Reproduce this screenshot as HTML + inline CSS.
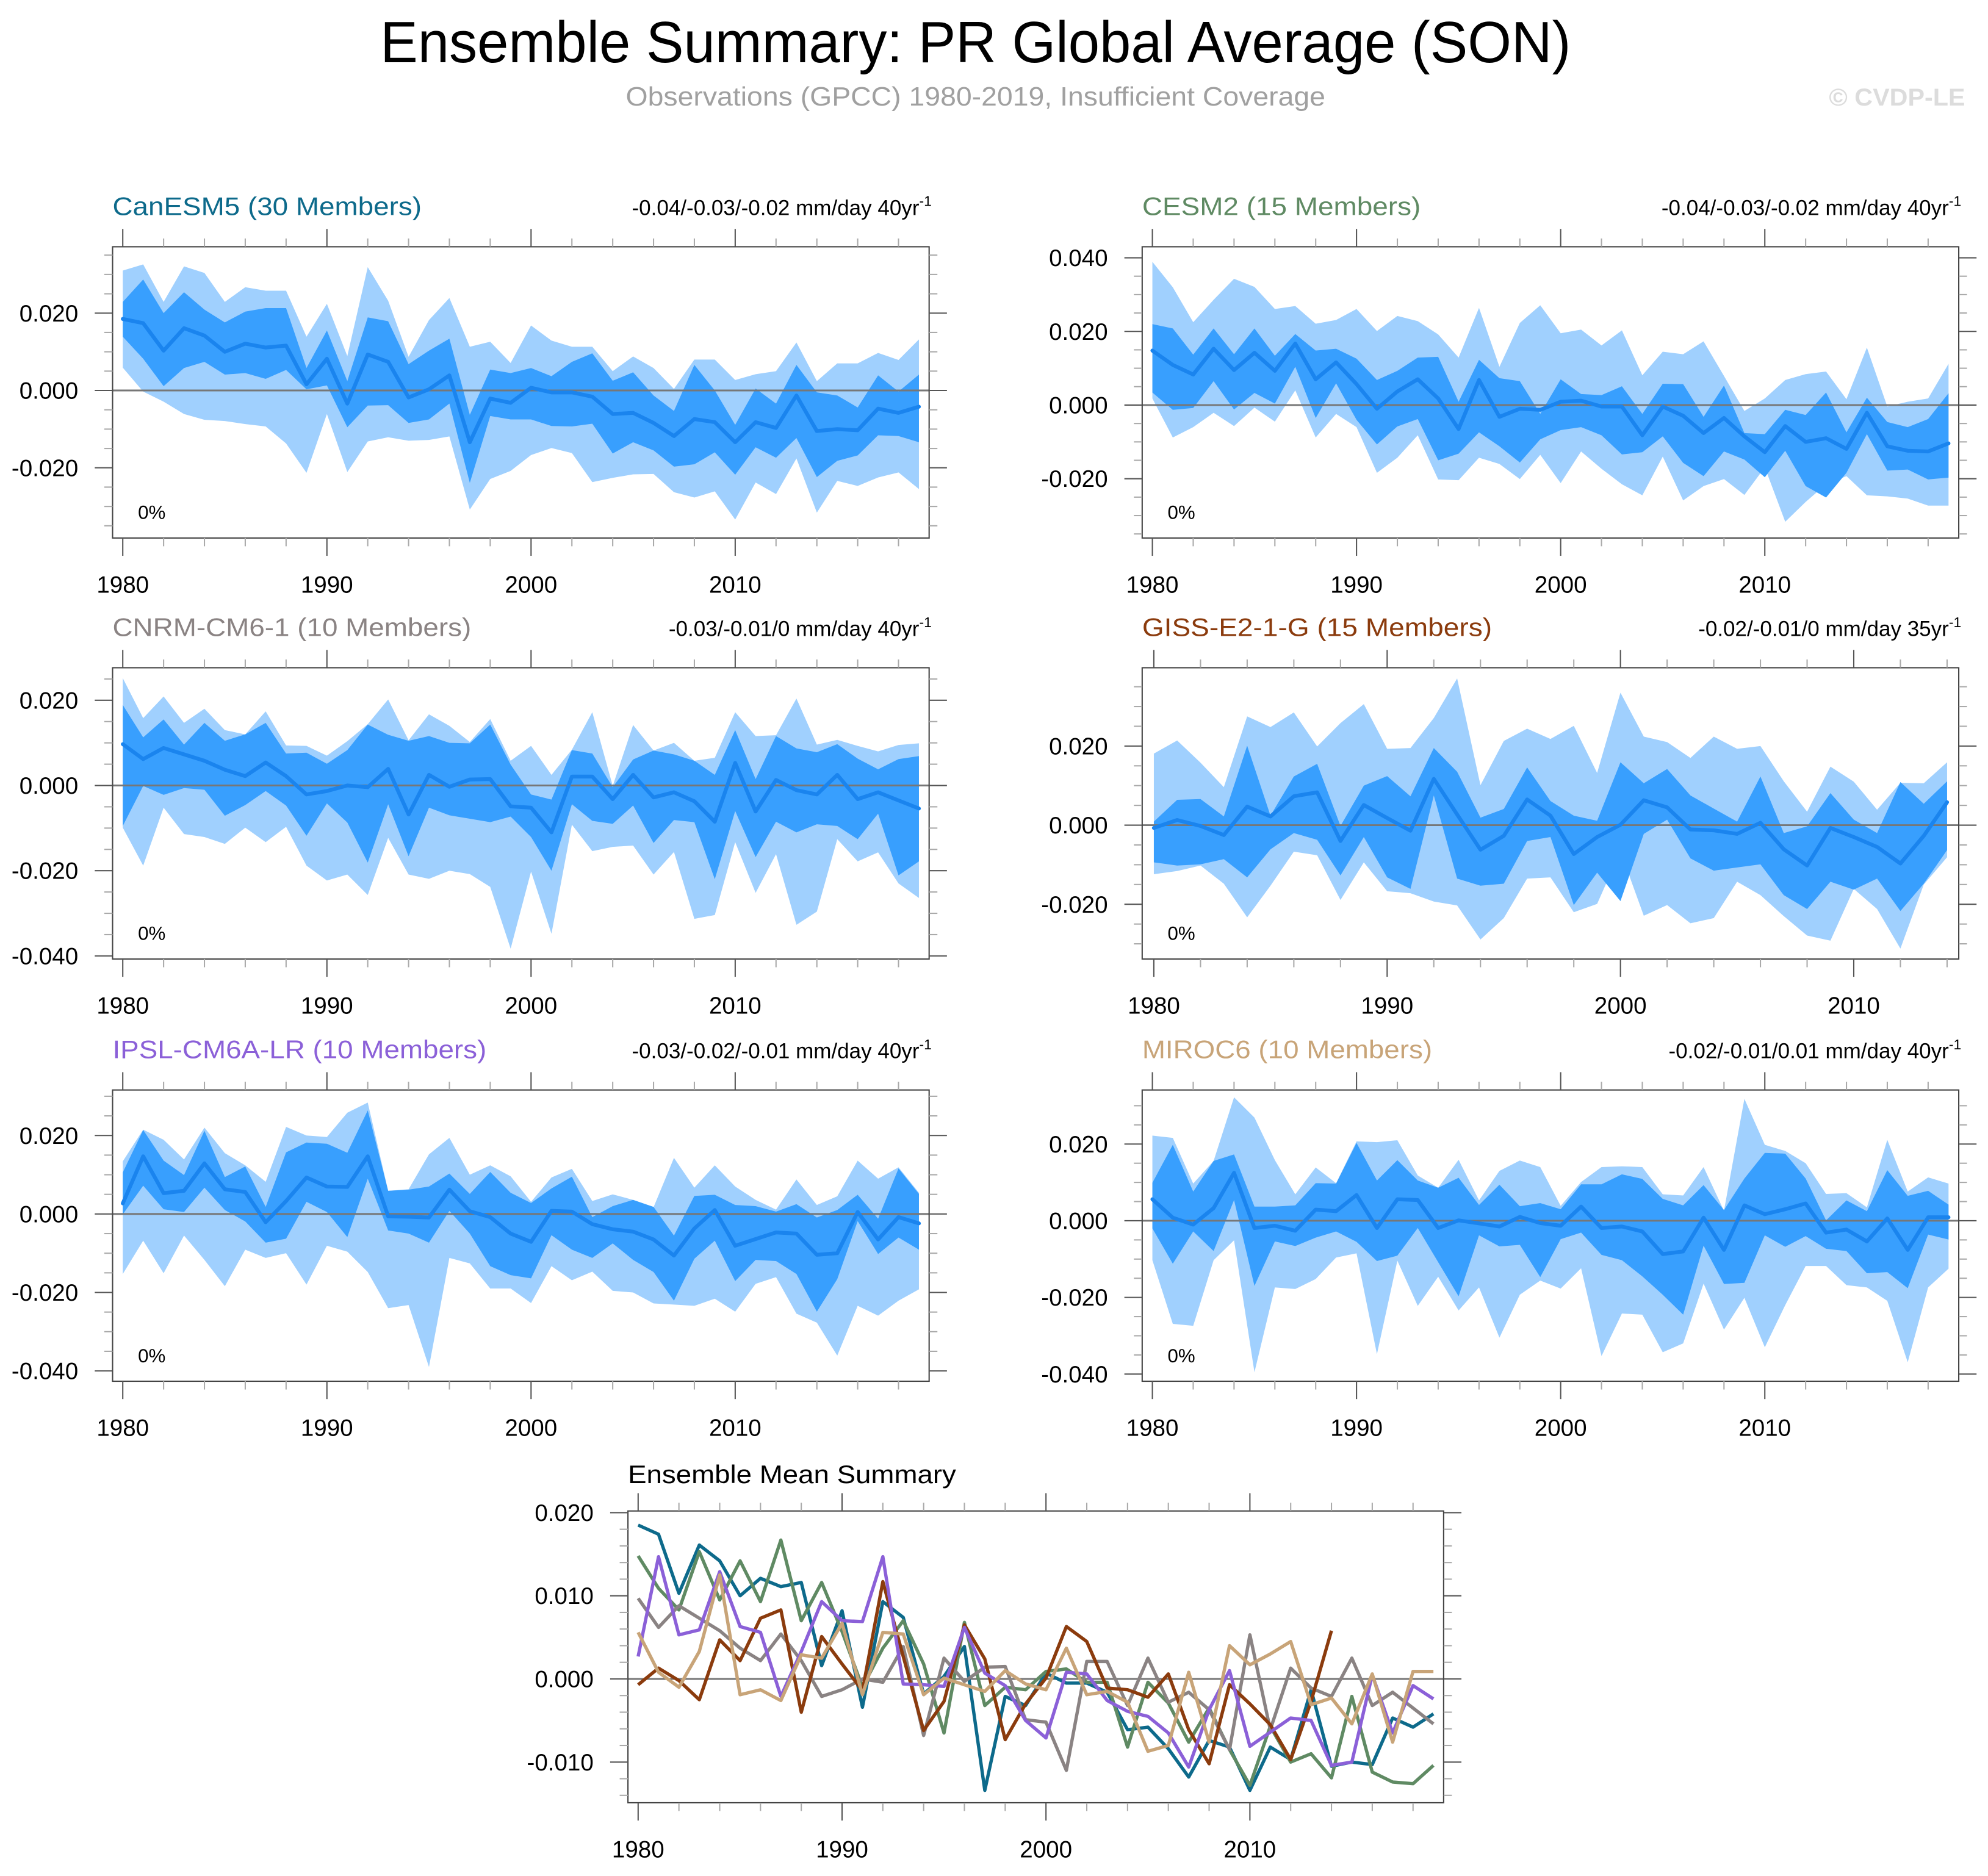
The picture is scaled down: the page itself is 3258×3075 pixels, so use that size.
<!DOCTYPE html>
<html><head><meta charset="utf-8"><style>
html,body{margin:0;padding:0;background:#fff}
svg{display:block}
text{font-family:"Liberation Sans",Arial,sans-serif}
</style></head><body>
<svg id="fig" xmlns="http://www.w3.org/2000/svg" width="3258" height="3075" viewBox="0 0 1563 1475" preserveAspectRatio="none">
<text x="767" y="49" font-size="46" text-anchor="middle" textLength="936" lengthAdjust="spacingAndGlyphs">Ensemble Summary: PR Global Average (SON)</text>
<text x="767" y="83" font-size="21" fill="#a0a0a0" text-anchor="middle" textLength="550" lengthAdjust="spacingAndGlyphs">Observations (GPCC) 1980-2019, Insufficient Coverage</text>
<text x="1545" y="83" font-size="19" font-weight="bold" fill="#dcdcdc" text-anchor="end" textLength="107" lengthAdjust="spacingAndGlyphs">© CVDP-LE</text>
</svg>
<script>
// values in units of 0.001 mm/day
const yearsAll = [1980,1981,1982,1983,1984,1985,1986,1987,1988,1989,1990,1991,1992,1993,1994,1995,1996,1997,1998,1999,2000,2001,2002,2003,2004,2005,2006,2007,2008,2009,2010,2011,2012,2013,2014,2015,2016,2017,2018,2019];
const yearsGiss = yearsAll.slice(0,35);

const canMax=[31.0,32.6,22.9,32.1,30.4,22.9,26.7,25.8,25.8,13.9,22.4,8.9,31.9,23.2,8.7,18.2,23.9,11.3,12.6,7.1,16.8,12.9,11.3,11.3,5.0,8.8,5.8,0.4,8.0,8.0,2.7,4.2,5.0,12.4,2.4,7.0,7.0,9.7,7.9,13.2];
const canP90=[22.9,28.7,20.0,25.4,20.9,17.6,20.4,21.3,21.3,5.8,15.5,2.4,18.9,17.9,6.8,10.3,13.4,-6.3,5.4,4.5,5.8,3.7,7.4,9.6,2.5,4.7,-1.3,-5.3,6.6,0,-8.9,0.5,-3.4,6.6,-0.5,-1.3,-4.4,3.9,-0.3,4.1];
const canMean=[18.5,17.4,10.3,16.1,14.2,10.0,12.1,11.1,11.6,1.6,8.2,-3.4,9.3,7.4,-1.8,0.3,3.9,-13.4,-2.1,-3.2,0.7,-0.5,-0.5,-1.6,-6.1,-5.8,-8.4,-11.8,-7.4,-8.2,-13.4,-8.2,-9.7,-1.3,-10.5,-10.0,-10.3,-4.7,-5.8,-4.2];
const canP10=[13.9,8.2,1.1,5.8,7.4,4.1,4.5,3.0,5.3,0.3,1.3,-9.5,-3.9,-3.8,-8.4,-7.5,-3.4,-23.9,-6.6,-7.5,-7.5,-9.2,-9.3,-8.6,-16.3,-13.4,-15.5,-19.7,-19.1,-16.0,-21.8,-14.7,-17.4,-12.3,-22.4,-18.2,-16.8,-11.6,-11.8,-13.4];
const canMin=[5.9,-0.3,-2.9,-6.1,-7.6,-7.9,-8.7,-9.3,-13.7,-21.3,-6.1,-21.1,-13.2,-12.1,-13.0,-12.8,-11.9,-30.8,-22.9,-20.8,-16.7,-14.9,-16.2,-23.7,-22.6,-21.7,-21.6,-26.3,-27.7,-26.1,-33.4,-23.8,-26.8,-17.6,-31.6,-23.4,-24.7,-22.5,-21.2,-25.5];

const cesMax=[38.9,32.0,22.5,28.6,34.3,32.1,26.1,26.9,22.1,23.1,26.1,20.1,24.2,22.8,19.2,12.9,26.4,10.4,22.3,27.1,19.5,20.5,16.2,20.3,8.1,14.5,13.8,17.3,7.9,-1.6,1.8,6.8,8.4,9.1,1.6,15.6,-0.4,0.9,1.8,11.2];
const cesP90=[22.0,20.8,13.7,20.8,13.8,20.8,13.4,19.3,14.8,15.3,12.6,6.8,9.3,12.9,13.1,0.9,12.3,7.3,6.5,-2.4,7.0,3.0,2.7,5.1,-2.4,5.8,5.7,-3.2,5.3,-7.6,-7.9,-1.3,-2.7,3.4,-7.4,2.0,-4.6,-6.0,-3.8,3.2];
const cesMean=[14.8,10.9,8.3,15.3,9.5,14.2,9.3,16.7,7.0,11.6,5.7,-1.0,3.7,7.0,1.8,-6.5,6.8,-3.2,-1.0,-1.3,0.9,1.2,-0.4,-0.4,-8.2,-0.4,-2.9,-7.6,-3.5,-8.5,-12.8,-5.7,-10.0,-9.0,-11.9,-2.1,-11.2,-12.4,-12.6,-10.4];
const cesP10=[3.4,-1.3,-0.8,6.5,-1.2,3.3,0.4,10.4,-3.5,5.9,-4.0,-10.7,-5.8,-3.8,-15.0,-13.2,-7.4,-11.2,-15.6,-9.3,-6.8,-6.0,-8.2,-13.4,-12.8,-8.5,-15.7,-19.3,-12.6,-14.8,-19.6,-12.4,-22.0,-25.1,-18.4,-7.9,-17.8,-17.5,-20.2,-19.7];
const cesMin=[1.8,-8.8,-6.0,-2.1,-5.7,-0.7,-4.5,4.0,-8.8,-2.4,-6.0,-18.4,-14.3,-8.2,-20.2,-20.4,-14.3,-16.0,-20.1,-13.5,-21.2,-12.6,-17.3,-21.5,-24.5,-14.0,-25.9,-22.0,-20.1,-24.4,-16.9,-31.7,-26.3,-21.5,-19.3,-24.5,-24.8,-25.4,-27.3,-27.3];

const cnrmMax=[25.2,15.8,20.9,14.7,18.0,13.0,12.0,17.4,9.4,9.3,7.0,10.4,14.4,20.2,10.6,16.7,14.0,10.2,15.6,5.8,9.3,2.5,8.4,17.2,-0.1,14.2,8.2,10.0,5.8,6.5,17.2,11.6,11.8,20.4,9.6,10.7,9.3,8.0,9.5,9.9];
const cnrmP90=[18.9,11.3,15.5,9.6,14.7,10.5,12.0,14.7,7.5,7.7,5.1,8.3,14.3,11.9,10.5,11.6,10.0,9.9,14.3,4.9,-2.1,-3.3,8.3,7.5,-0.4,6.1,8.2,7.3,5.8,2.5,13.0,1.5,11.6,8.7,7.8,9.7,6.3,3.8,6.2,6.9];
const cnrmMean=[9.7,6.2,8.8,7.3,5.8,3.7,2.2,5.4,2.2,-2.1,-1.3,0,-0.4,3.9,-6.8,2.5,-0.3,1.4,1.5,-4.9,-5.2,-11.0,2.1,2.1,-3.2,2.5,-2.8,-1.6,-3.7,-8.5,5.3,-6.1,1.3,-1.1,-2.1,2.5,-3.2,-1.6,-3.5,-5.4];
const cnrmP10=[-9.5,-0.1,-2.2,-0.6,-1.0,-7.1,-4.6,-1.3,-4.7,-11.8,-4.2,-8.7,-18.1,-4.4,-16.6,-5.2,-7.0,-7.8,-8.6,-7.3,-12.1,-20.0,-4.4,-8.3,-9.0,-4.7,-13.5,-8.1,-8.6,-22.0,-6.0,-16.8,-8.5,-11.0,-9.1,-9.5,-12.6,-6.6,-21.1,-17.8];
const cnrmMin=[-9.9,-18.8,-5.2,-11.4,-12.1,-13.7,-9.9,-13.3,-9.7,-18.8,-22.3,-20.9,-25.7,-12.3,-20.9,-21.9,-20.0,-20.8,-23.8,-38.3,-20.2,-34.8,-9.2,-15.4,-14.4,-14.1,-20.9,-15.6,-31.3,-30.4,-13.3,-25.2,-16.1,-32.7,-29.6,-12.6,-17.8,-15.7,-23.0,-26.4];

const gissMax=[18.1,21.4,15.8,9.6,27.5,24.8,28.5,19.9,25.8,30.6,19.3,19.5,27.1,37.1,10.1,21.3,24.4,21.8,25.1,13.2,33.5,22.4,21.0,17.0,22.4,19.3,20.0,11.1,3.4,14.8,11.0,3.9,10.7,10.6,15.9];
const gissP90=[0.9,6.4,6.6,2.2,20.1,2.4,12.3,15.5,-0.2,10.0,12.4,7.3,19.5,13.5,1.9,4.1,14.6,6.1,2.4,1.1,15.9,10.6,14.2,7.5,4.2,0.9,12.3,-2.0,-0.3,8.1,1.4,-2.0,10.9,5.4,11.1];
const gissMean=[-0.7,1.3,-0.2,-2.5,4.7,2.2,7.3,8.3,-4.0,5.1,1.8,-1.4,11.7,2.7,-6.2,-2.7,6.5,2.4,-7.3,-3.0,0.1,6.3,4.5,-1.1,-1.3,-2.2,0.6,-6.1,-10.2,-0.7,-3.0,-5.5,-9.7,-2.7,5.8];
const gissP10=[-9.4,-10.2,-9.9,-8.6,-13.2,-6.1,-2.0,-3.7,-12.7,-3.0,-13.2,-16.1,7.5,-13.5,-15.3,-14.8,-4.0,-3.0,-20.2,-12.0,-19.2,-2.2,1.4,-8.4,-11.5,-10.7,-9.9,-17.7,-21.2,-14.3,-16.3,-13.5,-21.7,-14.8,-6.3];
const gissMin=[-12.4,-11.6,-10.2,-14.8,-23.3,-15.3,-6.7,-7.6,-18.9,-9.4,-16.7,-17.2,-19.3,-20.3,-28.9,-23.5,-13.5,-13.2,-22.0,-19.9,-6.6,-22.9,-20.2,-24.8,-23.5,-14.3,-17.7,-23.0,-27.9,-29.2,-16.1,-21.2,-31.2,-15.0,-8.1];

const ipslMax=[13.4,21.5,18.9,13.9,22.0,15.5,12.4,8.2,22.2,20.0,19.6,25.8,28.4,5.9,6.3,15.2,19.4,10.0,12.4,9.6,3.1,9.3,11.5,3.3,5.0,3.6,1.7,14.3,6.7,12.4,7.0,3.6,1.1,8.8,2.3,4.5,13.6,9.0,11.9,5.4];
const ipslP90=[10.6,21.4,13.6,9.9,21.2,9.4,12.1,1.8,15.7,18.2,17.9,15.6,26.4,5.9,6.2,7.0,10.3,5.1,10.7,5.4,2.8,6.5,9.5,-0.8,2.0,3.6,1.8,-5.5,4.6,4.9,2.3,2.0,0.6,2.5,-0.9,1.0,4.9,-1.2,11.6,5.1];
const ipslMean=[2.7,14.7,5.3,5.9,12.9,6.3,5.6,-2.1,3.3,9.3,7.0,6.9,14.7,-0.6,-0.7,-0.9,6.2,0.7,-0.8,-5.0,-7.1,0.8,0.6,-2.6,-3.9,-4.5,-6.5,-10.6,-3.7,1.0,-8.1,-6.4,-4.7,-5.0,-10.4,-10.0,0.5,-6.5,-0.8,-2.4];
const ipslP10=[-0.1,7.2,1.2,0.5,6.7,1.0,-1.9,-7.3,-6.3,3.1,0.5,-5.9,9.0,-4.2,-5.0,-7.3,0.8,-5.0,-13.3,-15.6,-16.4,-5.4,-9.1,-11.2,-7.5,-11.7,-14.8,-22.1,-11.4,-6.8,-17.1,-11.7,-12.0,-15.3,-24.9,-16.6,-1.8,-10.2,-6.0,-9.1];
const ipslMin=[-15.3,-6.8,-15.1,-5.5,-11.7,-18.4,-9.1,-11.2,-10.0,-18.0,-8.1,-9.6,-14.8,-24.0,-23.2,-39.0,-11.2,-12.6,-19.0,-19.0,-22.7,-13.3,-16.9,-14.7,-19.6,-20.0,-22.8,-23.1,-23.4,-21.6,-24.9,-17.8,-16.1,-25.4,-27.7,-36.1,-23.4,-25.9,-22.1,-19.2];

const mirMax=[22.2,21.6,9.7,15.6,32.2,26.9,15.8,6.9,13.9,9.8,20.7,20.5,21.0,11.8,8.6,15.9,5.3,13.0,15.7,14.0,3.9,10.1,14.0,14.2,14.0,6.9,6.6,14.0,2.6,31.8,19.8,18.2,15.0,7.0,7.2,3.5,21.1,7.6,11.3,9.7];
const mirP90=[9.9,19.8,7.6,15.6,17.3,3.7,3.7,4.0,9.8,9.7,20.3,10.5,15.8,10.5,8.6,11.2,4.1,9.4,3.8,4.6,3.0,9.5,9.5,12.1,10.9,5.7,4.0,9.3,2.8,11.0,17.7,17.5,11.0,0.1,5.3,2.5,13.2,6.5,7.8,4.2];
const mirMean=[5.6,0.8,-1.0,3.3,12.5,-1.9,-1.3,-2.6,2.9,2.5,6.7,-1.9,5.6,5.4,-1.9,0.1,-0.7,-1.5,1.0,-0.6,-1.3,3.7,-1.9,-1.5,-2.8,-8.7,-8.0,0.8,-7.6,4.0,1.7,3.0,4.5,-3.1,-2.3,-5.4,0.6,-7.6,0.9,0.9];
const mirP10=[-2.0,-11.2,-2.8,-7.9,5.4,-17.0,-5.4,-6.6,-4.4,-2.8,-5.5,-10.5,-9.1,-1.9,-10.8,-19.7,-3.8,-6.7,-6.3,-14.7,-4.8,-3.1,-8.9,-10.3,-14.5,-19.3,-24.5,-6.5,-16.5,-16.2,-3.8,-6.8,-4.0,-7.3,-7.9,-13.7,-13.4,-17.6,-3.6,-4.9];
const mirMin=[-10.3,-26.9,-27.4,-10.3,-5.1,-39.5,-17.4,-17.8,-15.2,-9.6,-8.5,-34.8,-10.4,-22.2,-14.6,-23.4,-17.4,-30.5,-19.3,-15.6,-17.7,-12.4,-35.3,-24.2,-24.5,-34.3,-32.0,-16.4,-28.4,-20.1,-33.0,-22.0,-11.8,-11.8,-16.8,-17.4,-20.9,-36.9,-17.4,-12.5];

const panelTickLabels20 = [40,20,0,-20,-40];
const summaryTickLabels = [20,10,0,-10];
const decadeTicks = [1980,1990,2000,2010];

const NS='http://www.w3.org/2000/svg';
const svg=document.getElementById('fig');
function mk(tag,attrs,parent){const e=document.createElementNS(NS,tag);for(const k in attrs)e.setAttribute(k,attrs[k]);(parent||svg).appendChild(e);return e;}
function fmt(v){const s=(Math.abs(v)/1000).toFixed(3);return (v<0?'-':'')+s;}

function axes(g,p,majorY,minorY,labels){
  const xs=p.xs, ys=p.ys;
  for(let yr=1980; yr<=p.xmax; yr+=2){
    const major=(yr%10===0), len=major?14:6.5, col=major?'#555':'#aaa';
    const t1=mk('line',{x1:xs(yr),x2:xs(yr),y1:p.y1,y2:p.y1+len,stroke:col,'stroke-width':1},g);
    
    
    const t2=mk('line',{x1:xs(yr),x2:xs(yr),y1:p.y0,y2:p.y0-len,stroke:col,'stroke-width':1},g);
    
    
  }
  decadeTicks.forEach(yr=>{
    if(yr>p.xmax)return;
    const t=mk('text',{x:xs(yr),y:p.y1+43,'font-size':18.5,'text-anchor':'middle'},g);
    t.textContent=String(yr);
    
    
  });
  const start=Math.ceil(p.ymin/minorY)*minorY;
  for(let v=start; v<=p.ymax+1e-6; v+=minorY){
    const vv=Math.round(v*10)/10;
    const major=Math.abs(vv%majorY)<1e-6, len=major?14:6.5, col=major?'#555':'#aaa';
    const l1=mk('line',{x1:p.x0,x2:p.x0-len,y1:ys(vv),y2:ys(vv),stroke:col,'stroke-width':1},g);
    
    
    const l2=mk('line',{x1:p.x1,x2:p.x1+len,y1:ys(vv),y2:ys(vv),stroke:col,'stroke-width':1},g);
    
    
  }
  labels.forEach(v=>{
    if(v>p.ymax||v<p.ymin)return;
    const t=mk('text',{x:p.x0-27,y:ys(v)+6.5,'font-size':18.5,'text-anchor':'end'},g);
    t.textContent=fmt(v);
    
    
  });
}

function panel(cfg){
  const g=mk('g',{});
  
  
  const p=cfg;
  p.xs=yr=>p.x0+(yr-p.xmin)/(p.xmax+0.5-p.xmin)*(p.x1-p.x0);
  p.ys=v=>p.y0+(p.ymax-v)/(p.ymax-p.ymin)*(p.y1-p.y0);
  const yrs=cfg.years;
  function band(hi,lo,fill,nm){
    const pts=[];
    yrs.forEach((y,i)=>pts.push(p.xs(y).toFixed(2)+','+p.ys(hi[i]).toFixed(2)));
    for(let i=yrs.length-1;i>=0;i--)pts.push(p.xs(yrs[i]).toFixed(2)+','+p.ys(lo[i]).toFixed(2));
    const b=mk('polygon',{points:pts.join(' '),fill:fill},g);
    
    
  }
  band(cfg.max,cfg.min,'#a0d0fe','min-max-band');
  band(cfg.p90,cfg.p10,'#389ffe','p10-p90-band');
  const z=mk('line',{x1:p.x0,x2:p.x1,y1:p.ys(0),y2:p.ys(0),stroke:'#777','stroke-width':1.4},g);
  
  
  const m=mk('polyline',{points:yrs.map((y,i)=>p.xs(y).toFixed(2)+','+p.ys(cfg.mean[i]).toFixed(2)).join(' '),fill:'none',stroke:'#1a84ee','stroke-width':3,'stroke-linejoin':'round','stroke-linecap':'round'},g);
  
  
  const r=mk('rect',{x:p.x0,y:p.y0,width:p.x1-p.x0,height:p.y1-p.y0,fill:'none',stroke:'#444','stroke-width':1},g);
  
  
  axes(g,p,20,5,panelTickLabels20);
  const pc=mk('text',{x:p.x0+20,y:p.y1-15,'font-size':15},g);
  pc.textContent='0%';
  
  
  const t=mk('text',{x:p.x0,y:p.y0-25,'font-size':20,fill:cfg.color,textLength:cfg.titleLen,lengthAdjust:'spacingAndGlyphs'},g);
  t.textContent=cfg.title;
  
  
  const tr=mk('text',{x:p.x1+2,y:p.y0-25,'font-size':16.8,'text-anchor':'end'},g);
  
  
  const s1=mk('tspan',{},tr); s1.textContent=cfg.trend;
  const s2=mk('tspan',{'font-size':11,dy:-7},tr); s2.textContent='-1';
}

const L=[88.5,730.5], R=[898,1540];
const rows=[[194,423],[525,754],[857,1086]];
panel({name:'canesm5',title:'CanESM5 (30 Members)',titleLen:243,color:'#0d6a8b',trend:'-0.04/-0.03/-0.02 mm/day 40yr',x0:L[0],x1:L[1],y0:rows[0][0],y1:rows[0][1],xmin:1979.5,xmax:2019,ymax:37.17,ymin:-38.16,years:yearsAll,max:canMax,p90:canP90,mean:canMean,p10:canP10,min:canMin});
panel({name:'cesm2',title:'CESM2 (15 Members)',titleLen:219,color:'#5f8a63',trend:'-0.04/-0.03/-0.02 mm/day 40yr',x0:R[0],x1:R[1],y0:rows[0][0],y1:rows[0][1],xmin:1979.5,xmax:2019,ymax:43.0,ymin:-36.1,years:yearsAll,max:cesMax,p90:cesP90,mean:cesMean,p10:cesP10,min:cesMin});
panel({name:'cnrm-cm6-1',title:'CNRM-CM6-1 (10 Members)',titleLen:282,color:'#8a8383',trend:'-0.03/-0.01/0 mm/day 40yr',x0:L[0],x1:L[1],y0:rows[1][0],y1:rows[1][1],xmin:1979.5,xmax:2019,ymax:27.64,ymin:-40.72,years:yearsAll,max:cnrmMax,p90:cnrmP90,mean:cnrmMean,p10:cnrmP10,min:cnrmMin});
panel({name:'giss-e2-1-g',title:'GISS-E2-1-G (15 Members)',titleLen:275,color:'#8b3b0d',trend:'-0.02/-0.01/0 mm/day 35yr',x0:R[0],x1:R[1],y0:rows[1][0],y1:rows[1][1],xmin:1979.5,xmax:2014,ymax:39.8,ymin:-33.83,years:yearsGiss,max:gissMax,p90:gissP90,mean:gissMean,p10:gissP10,min:gissMin});
panel({name:'ipsl-cm6a-lr',title:'IPSL-CM6A-LR (10 Members)',titleLen:294,color:'#8b60d8',trend:'-0.03/-0.02/-0.01 mm/day 40yr',x0:L[0],x1:L[1],y0:rows[2][0],y1:rows[2][1],xmin:1979.5,xmax:2019,ymax:31.6,ymin:-42.63,years:yearsAll,max:ipslMax,p90:ipslP90,mean:ipslMean,p10:ipslP10,min:ipslMin});
panel({name:'miroc6',title:'MIROC6 (10 Members)',titleLen:228,color:'#c8a478',trend:'-0.02/-0.01/0.01 mm/day 40yr',x0:R[0],x1:R[1],y0:rows[2][0],y1:rows[2][1],xmin:1979.5,xmax:2019,ymax:34.1,ymin:-41.86,years:yearsAll,max:mirMax,p90:mirP90,mean:mirMean,p10:mirP10,min:mirMin});

(function(){
  const g=mk('g',{});
  
  
  const p={x0:493.7,x1:1135,y0:1188,y1:1417.4,xmin:1979.5,xmax:2019,ymax:20.2,ymin:-14.89};
  p.xs=yr=>p.x0+(yr-p.xmin)/(p.xmax+0.5-p.xmin)*(p.x1-p.x0);
  p.ys=v=>p.y0+(p.ymax-v)/(p.ymax-p.ymin)*(p.y1-p.y0);
  const z=mk('line',{x1:p.x0,x2:p.x1,y1:p.ys(0),y2:p.ys(0),stroke:'#777','stroke-width':1.4},g);
  
  
  const series=[['canesm5',canMean,yearsAll,'#0d6a8b'],['cesm2',cesMean,yearsAll,'#5f8a63'],['cnrm-cm6-1',cnrmMean,yearsAll,'#8a8383'],['giss-e2-1-g',gissMean,yearsGiss,'#8b3b0d'],['ipsl-cm6a-lr',ipslMean,yearsAll,'#8b60d8'],['miroc6',mirMean,yearsAll,'#c8a478']];
  series.forEach(s=>{
    const l=mk('polyline',{points:s[2].map((y,i)=>p.xs(y).toFixed(2)+','+p.ys(s[1][i]).toFixed(2)).join(' '),fill:'none',stroke:s[3],'stroke-width':2.6,'stroke-linejoin':'round'},g);
    
    
  });
  const r=mk('rect',{x:p.x0,y:p.y0,width:p.x1-p.x0,height:p.y1-p.y0,fill:'none',stroke:'#444','stroke-width':1},g);
  
  
  axes(g,p,10,2,summaryTickLabels);
  const t=mk('text',{x:p.x0,y:1166,'font-size':20,textLength:258,lengthAdjust:'spacingAndGlyphs'},g);
  t.textContent='Ensemble Mean Summary';
  
  
})();
</script>
</body></html>
